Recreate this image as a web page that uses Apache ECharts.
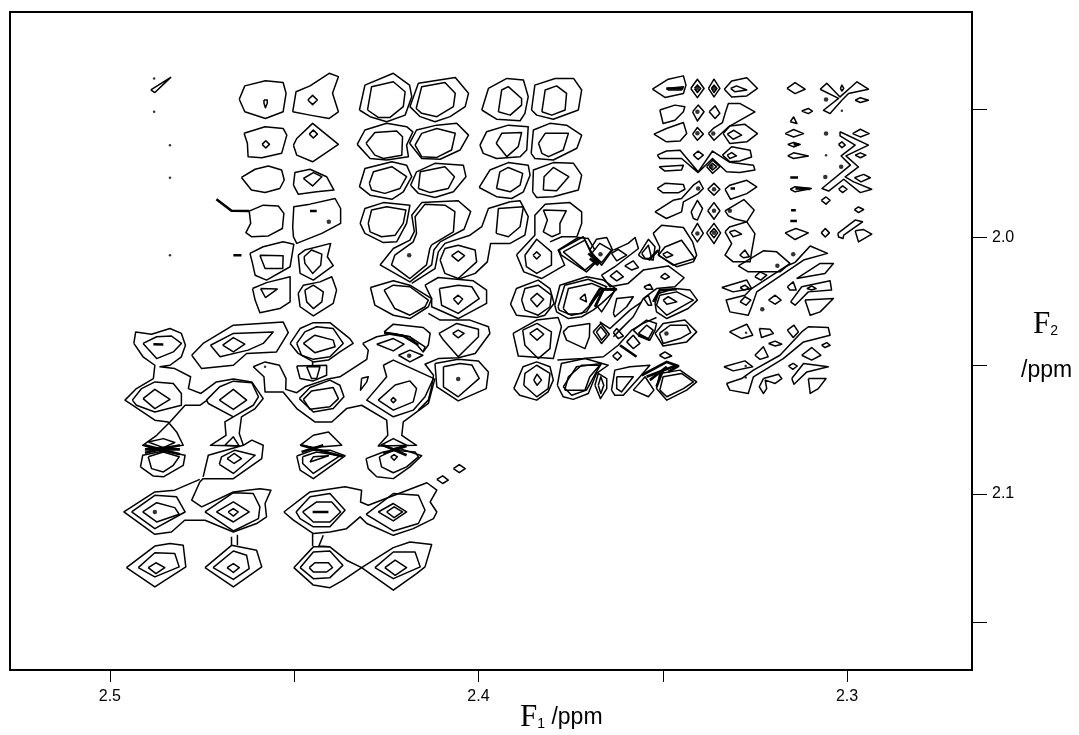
<!DOCTYPE html>
<html>
<head>
<meta charset="utf-8">
<style>html,body{margin:0;padding:0;background:#fff}#chart{width:1079px;height:735px}</style>
<script src="https://cdn.jsdelivr.net/npm/echarts@6/dist/echarts.min.js"></script>
</head>
<body>
<div id="chart"></div>
<script>
// contours, every list is F1,F2,F1,F2... in ppm
const f1Ticks = [2.5, 2.45, 2.4, 2.35, 2.3]
const f1Labels = [2.5, 2.4, 2.3]
const f2Ticks = [1.95, 2.0, 2.05, 2.1, 2.15]
const f2Labels = [2.0, 2.1]

const upperLeftRings = [
  [2.4649,1.9462,2.4634,1.9410,2.4578,1.9390,2.4530,1.9397,2.4522,1.9439,2.4530,1.9511,2.4578,1.9537,2.4634,1.9511],
  [2.4582,1.9465,2.4573,1.9465,2.4573,1.9478,2.4578,1.9495,2.4582,1.9478],
  [2.4504,1.9511,2.4495,1.9433,2.4457,1.9410,2.4405,1.9361,2.4380,1.9374,2.4396,1.9439,2.4380,1.9511,2.4405,1.9537,2.4457,1.9524],
  [2.4463,1.9465,2.4450,1.9447,2.4437,1.9465,2.4450,1.9483],
  [2.4636,1.9595,2.4579,1.9569,2.4530,1.9576,2.4520,1.9602,2.4534,1.9673,2.4588,1.9690,2.4625,1.9686,2.4627,1.9634],
  [2.4587,1.9638,2.4577,1.9624,2.4567,1.9638,2.4577,1.9652],
  [2.4502,1.9641,2.4493,1.9615,2.4450,1.9556,2.4380,1.9638,2.4450,1.9706,2.4493,1.9680],
  [2.4459,1.9598,2.4448,1.9582,2.4437,1.9598,2.4448,1.9613],
  [2.4643,1.9767,2.4606,1.9735,2.4570,1.9722,2.4534,1.9738,2.4527,1.9777,2.4539,1.9810,2.4579,1.9826,2.4616,1.9816],
  [2.4502,1.9797,2.4498,1.9748,2.4457,1.9735,2.4412,1.9764,2.4392,1.9816,2.4439,1.9823,2.4489,1.9832],
  [2.4475,1.9771,2.4448,1.9748,2.4425,1.9764,2.4450,1.9800],
  [2.4622,1.9898,2.4584,1.9875,2.4543,1.9878,2.4528,1.9907,2.4532,1.9966,2.4570,1.9995,2.4616,1.9998,2.4631,1.9982,2.4618,1.9946],
  [2.4504,1.9959,2.4501,1.9881,2.4457,1.9871,2.4389,1.9849,2.4374,1.9888,2.4374,1.9946,2.4425,1.9985,2.4493,2.0024,2.4502,1.9998],
  [2.4620,2.0063,2.4584,2.0037,2.4530,2.0018,2.4501,2.0027,2.4511,2.0115,2.4575,2.0167,2.4606,2.0148,2.4613,2.0102],
  [2.4593,2.0070,2.4530,2.0072,2.4531,2.0122,2.4579,2.0122],
  [2.4489,2.0070,2.4471,2.0050,2.4401,2.0024,2.4410,2.0076,2.4394,2.0111,2.4448,2.0167,2.4484,2.0141],
  [2.4473,2.0076,2.4453,2.0050,2.4425,2.0066,2.4428,2.0109,2.4450,2.0141,2.4471,2.0102],
  [2.4613,2.0200,2.4575,2.0177,2.4511,2.0154,2.4511,2.0252,2.4539,2.0278,2.4593,2.0294,2.4606,2.0245],
  [2.4591,2.0200,2.4546,2.0202,2.4578,2.0235],
  [2.4489,2.0219,2.4475,2.0187,2.4430,2.0174,2.4398,2.0154,2.4385,2.0206,2.4394,2.0258,2.4448,2.0307,2.4484,2.0271],
  [2.4471,2.0206,2.4448,2.0187,2.4421,2.0213,2.4425,2.0252,2.4448,2.0278,2.4466,2.0252],
  [2.4889,1.9426,2.4835,1.9377,2.4878,1.9436]
]

const upperMidRings = [
  [2.4323,1.9504,2.4308,1.9407,2.4231,1.9361,2.4187,1.9407,2.4181,1.9452,2.4199,1.9524,2.4249,1.9550,2.4294,1.9530],
  [2.4301,1.9504,2.4290,1.9413,2.4231,1.9394,2.4199,1.9433,2.4204,1.9491,2.4240,1.9533,2.4272,1.9533],
  [2.4186,1.9491,2.4163,1.9400,2.4063,1.9377,2.4027,1.9439,2.4036,1.9491,2.4077,1.9530,2.4118,1.9550,2.4158,1.9530],
  [2.4169,1.9498,2.4154,1.9413,2.4091,1.9397,2.4063,1.9439,2.4068,1.9491,2.4113,1.9530,2.4154,1.9517],
  [2.4329,1.9638,2.4308,1.9582,2.4249,1.9556,2.4195,1.9569,2.4178,1.9589,2.4195,1.9641,2.4190,1.9686,2.4249,1.9699,2.4294,1.9693],
  [2.4305,1.9634,2.4281,1.9592,2.4222,1.9586,2.4206,1.9608,2.4208,1.9680,2.4258,1.9693,2.4281,1.9680],
  [2.4187,1.9634,2.4168,1.9582,2.4113,1.9563,2.4059,1.9556,2.4027,1.9602,2.4050,1.9660,2.4104,1.9696,2.4154,1.9693],
  [2.4172,1.9641,2.4154,1.9595,2.4113,1.9576,2.4063,1.9595,2.4073,1.9660,2.4113,1.9689,2.4154,1.9686],
  [2.4323,1.9803,2.4308,1.9732,2.4235,1.9706,2.4195,1.9719,2.4181,1.9764,2.4204,1.9823,2.4235,1.9852,2.4294,1.9836],
  [2.4296,1.9790,2.4285,1.9745,2.4235,1.9725,2.4195,1.9764,2.4213,1.9810,2.4254,1.9829,2.4290,1.9816],
  [2.4184,1.9797,2.4168,1.9745,2.4118,1.9712,2.4041,1.9719,2.4034,1.9764,2.4068,1.9823,2.4118,1.9845,2.4163,1.9829],
  [2.4163,1.9810,2.4158,1.9745,2.4091,1.9725,2.4065,1.9764,2.4082,1.9810,2.4131,1.9826],
  [2.4321,1.9946,2.4308,1.9888,2.4258,1.9865,2.4186,1.9875,2.4195,1.9946,2.4222,2.0018,2.4258,2.0021,2.4308,1.9985],
  [2.4299,1.9946,2.4290,1.9894,2.4249,1.9881,2.4197,1.9894,2.4204,1.9946,2.4226,1.9992,2.4263,1.9998,2.4294,1.9979],
  [2.4267,2.0108,2.4231,2.0044,2.4186,2.0011,2.4174,1.9978,2.4181,1.9914,2.4154,1.9865,2.4055,1.9858,2.4021,1.9900,2.4039,1.9969,2.4104,2.0018,2.4121,2.0050,2.4127,2.0108,2.4186,2.0174],
  [2.4127,2.0030,2.4068,1.9979,2.4064,1.9900,2.4091,1.9875,2.4145,1.9871,2.4172,1.9920,2.4168,1.9985,2.4177,2.0018,2.4227,2.0070,2.4236,2.0108,2.4186,2.0161,2.4141,2.0108,2.4132,2.0044],
  [2.4104,2.0089,2.4091,2.0044,2.4055,2.0031,2.4009,2.0050,2.4005,2.0096,2.4055,2.0161,2.4091,2.0141],
  [2.4073,2.0072,2.4055,2.0054,2.4038,2.0072,2.4055,2.0093],
  [2.4145,2.0187,2.4109,2.0157,2.4059,2.0164,2.4014,2.0170,2.3978,2.0206,2.3978,2.0258,2.4055,2.0317,2.4127,2.0271,2.4127,2.0239],
  [2.4106,2.0200,2.4055,2.0187,2.4018,2.0193,2.3998,2.0239,2.4055,2.0297,2.4100,2.0265],
  [2.4068,2.0241,2.4055,2.0226,2.4043,2.0241,2.4055,2.0261],
  [2.4293,2.0196,2.4231,2.0170,2.4186,2.0187,2.4127,2.0239,2.4136,2.0271,2.4186,2.0317,2.4231,2.0304,2.4281,2.0265],
  [2.4256,2.0206,2.4231,2.0187,2.4186,2.0193,2.4136,2.0245,2.4145,2.0271,2.4186,2.0304,2.4227,2.0278],
  [2.4107,2.0375,2.4059,2.0336,2.4000,2.0359,2.4000,2.0388,2.4055,2.0466,2.4095,2.0401],
  [2.4070,2.0375,2.4055,2.0362,2.4039,2.0375,2.4055,2.0392],
  [2.4118,2.0492,2.4055,2.0476,2.4000,2.0482,2.3973,2.0525,2.3979,2.0590,2.4055,2.0638,2.4113,2.0583],
  [2.4095,2.0505,2.4050,2.0492,2.4018,2.0498,2.3998,2.0550,2.4055,2.0622,2.4095,2.0583],
  [2.4256,2.0369,2.4231,2.0339,2.4150,2.0352,2.4131,2.0375,2.4136,2.0420,2.4150,2.0447,2.4186,2.0388],
  [2.4276,2.0417,2.4231,2.0395,2.4202,2.0417,2.4231,2.0443],
  [2.4217,2.0460,2.4186,2.0440,2.4151,2.0460,2.4186,2.0486],
  [2.4258,2.0499,2.4231,2.0479,2.4122,2.0550,2.4145,2.0622,2.4177,2.0674,2.4231,2.0700,2.4303,2.0635,2.4249,2.0544],
  [2.4272,2.0635,2.4226,2.0576,2.4186,2.0560,2.4168,2.0590,2.4177,2.0642,2.4231,2.0674],
  [2.4238,2.0635,2.4231,2.0625,2.4224,2.0635,2.4231,2.0645],
  [2.4317,2.0550,2.4299,2.0544,2.4303,2.0564,2.4320,2.0596]
]

const upperRightRings = [
  [2.3991,1.9504,2.3973,1.9420,2.3923,1.9381,2.3878,1.9387,2.3865,1.9452,2.3874,1.9517,2.3887,1.9546,2.3951,1.9540],
  [2.3946,1.9511,2.3937,1.9426,2.3919,1.9413,2.3883,1.9459,2.3883,1.9485,2.3914,1.9524],
  [2.3856,1.9504,2.3847,1.9407,2.3792,1.9381,2.3742,1.9381,2.3720,1.9426,2.3729,1.9504,2.3797,1.9540,2.3842,1.9524],
  [2.3828,1.9511,2.3819,1.9426,2.3788,1.9410,2.3761,1.9439,2.3765,1.9504,2.3801,1.9524],
  [2.3996,1.9641,2.3978,1.9589,2.3919,1.9563,2.3865,1.9569,2.3869,1.9660,2.3887,1.9686,2.3951,1.9693,2.3987,1.9673],
  [2.3952,1.9634,2.3937,1.9595,2.3883,1.9592,2.3892,1.9647,2.3923,1.9686],
  [2.3857,1.9673,2.3851,1.9582,2.3806,1.9556,2.3761,1.9563,2.3720,1.9602,2.3733,1.9653,2.3797,1.9699,2.3847,1.9693],
  [2.3837,1.9634,2.3819,1.9595,2.3756,1.9595,2.3770,1.9660,2.3810,1.9686,2.3828,1.9673],
  [2.3998,1.9806,2.3969,1.9738,2.3919,1.9709,2.3865,1.9719,2.3860,1.9758,2.3878,1.9823,2.3910,1.9849,2.3951,1.9842],
  [2.3951,1.9810,2.3942,1.9745,2.3919,1.9728,2.3880,1.9751,2.3887,1.9797,2.3914,1.9823],
  [2.3853,1.9823,2.3851,1.9738,2.3797,1.9709,2.3742,1.9712,2.3720,1.9758,2.3729,1.9816,2.3797,1.9842,2.3842,1.9845],
  [2.3824,1.9816,2.3822,1.9764,2.3797,1.9728,2.3755,1.9764,2.3788,1.9819],
  [2.3952,1.9985,2.3946,1.9888,2.3878,1.9881,2.3887,1.9959,2.3919,1.9998],
  [2.3824,1.9894,2.3762,1.9897,2.3779,1.9946,2.3779,1.9985,2.3801,1.9998,2.3824,1.9979,2.3813,1.9933]
]

const centerRings = [
  [2.3874,2.0070,2.3842,2.0008,2.3802,2.0057,2.3802,2.0109,2.3842,2.0141,2.3870,2.0115],
  [2.3852,2.0070,2.3842,2.0057,2.3832,2.0070,2.3842,2.0085],
  [2.3781,2.0050,2.3716,1.9998,2.3680,2.0096,2.3707,2.0135,2.3775,2.0070],
  [2.3770,2.0057,2.3711,2.0011,2.3684,2.0096,2.3711,2.0128],
  [2.3693,2.0063,2.3671,2.0024,2.3639,2.0050,2.3666,2.0099],
  [2.3698,2.0050,2.3680,2.0008,2.3652,2.0001,2.3636,2.0050,2.3666,2.0109],
  [2.3639,2.0063,2.3621,2.0047,2.3598,2.0070,2.3625,2.0092],
  [2.3566,2.0070,2.3539,2.0008,2.3521,2.0037,2.3526,2.0089,2.3553,2.0083],
  [2.3557,2.0063,2.3539,2.0031,2.3530,2.0083,2.3548,2.0083],
  [2.3603,2.0112,2.3580,2.0092,2.3566,2.0118,2.3584,2.0128],
  [2.3643,2.0151,2.3625,2.0131,2.3607,2.0154,2.3625,2.0170],
  [2.3913,2.0261,2.3897,2.0200,2.3838,2.0167,2.3806,2.0200,2.3795,2.0258,2.3820,2.0304,2.3842,2.0313,2.3897,2.0304],
  [2.3883,2.0245,2.3874,2.0200,2.3838,2.0187,2.3802,2.0226,2.3806,2.0271,2.3838,2.0304,2.3874,2.0284],
  [2.3859,2.0242,2.3841,2.0219,2.3823,2.0242,2.3841,2.0271],
  [2.3793,2.0265,2.3779,2.0187,2.3707,2.0154,2.3661,2.0167,2.3625,2.0203,2.3666,2.0258,2.3689,2.0284,2.3720,2.0310,2.3756,2.0317,2.3788,2.0291],
  [2.3784,2.0271,2.3766,2.0187,2.3702,2.0164,2.3652,2.0193,2.3680,2.0232,2.3707,2.0291,2.3747,2.0304,2.3781,2.0284],
  [2.3770,2.0278,2.3756,2.0200,2.3693,2.0180,2.3661,2.0200,2.3698,2.0265,2.3720,2.0297,2.3756,2.0300],
  [2.3725,2.0239,2.3711,2.0222,2.3707,2.0252],
  [2.3680,2.0265,2.3661,2.0206,2.3630,2.0206,2.3648,2.0252,2.3666,2.0291],
  [2.3634,2.0297,2.3625,2.0239,2.3580,2.0232,2.3598,2.0271,2.3630,2.0310],
  [2.3551,2.0193,2.3535,2.0183,2.3527,2.0203,2.3544,2.0203],
  [2.3551,2.0239,2.3539,2.0226,2.3530,2.0265,2.3539,2.0265],
  [2.3521,2.0258,2.3512,2.0219,2.3467,2.0200,2.3426,2.0206,2.3406,2.0245,2.3431,2.0278,2.3489,2.0317,2.3517,2.0291],
  [2.3517,2.0265,2.3508,2.0226,2.3462,2.0213,2.3417,2.0245,2.3489,2.0304],
  [2.3499,2.0245,2.3485,2.0232,2.3462,2.0252,2.3489,2.0261],
  [2.3506,2.0154,2.3494,2.0141,2.3482,2.0154,2.3494,2.0164],
  [2.3906,2.0375,2.3842,2.0323,2.3784,2.0313,2.3775,2.0349,2.3797,2.0473,2.3892,2.0463],
  [2.3880,2.0362,2.3841,2.0336,2.3802,2.0369,2.3806,2.0434,2.3838,2.0473,2.3874,2.0421],
  [2.3861,2.0375,2.3841,2.0356,2.3823,2.0378,2.3841,2.0401],
  [2.3770,2.0369,2.3756,2.0349,2.3698,2.0336,2.3699,2.0388,2.3711,2.0434,2.3761,2.0401],
  [2.3689,2.0369,2.3668,2.0336,2.3645,2.0378,2.3666,2.0414],
  [2.3680,2.0369,2.3668,2.0349,2.3652,2.0378,2.3666,2.0401],
  [2.3634,2.0372,2.3625,2.0356,2.3607,2.0385,2.3621,2.0395],
  [2.3598,2.0408,2.3580,2.0382,2.3562,2.0414,2.3580,2.0434],
  [2.3580,2.0362,2.3544,2.0323,2.3517,2.0336,2.3521,2.0362,2.3535,2.0401,2.3566,2.0382],
  [2.3566,2.0375,2.3544,2.0343,2.3526,2.0362,2.3539,2.0395],
  [2.3521,2.0375,2.3499,2.0336,2.3440,2.0323,2.3408,2.0369,2.3435,2.0408,2.3499,2.0424],
  [2.3509,2.0375,2.3480,2.0343,2.3435,2.0343,2.3424,2.0372,2.3453,2.0395,2.3499,2.0414],
  [2.3636,2.0463,2.3623,2.0447,2.3612,2.0463,2.3623,2.0479],
  [2.3509,2.0460,2.3494,2.0447,2.3476,2.0463,2.3494,2.0473],
  [2.3904,2.0590,2.3879,2.0505,2.3842,2.0486,2.3806,2.0505,2.3797,2.0557,2.3811,2.0603,2.3842,2.0635,2.3888,2.0616],
  [2.3877,2.0577,2.3874,2.0531,2.3842,2.0499,2.3806,2.0531,2.3811,2.0590,2.3842,2.0622],
  [2.3850,2.0557,2.3841,2.0534,2.3829,2.0557,2.3841,2.0577],
  [2.3786,2.0577,2.3775,2.0492,2.3711,2.0473,2.3648,2.0499,2.3680,2.0531,2.3702,2.0609,2.3743,2.0632,2.3770,2.0622],
  [2.3770,2.0583,2.3734,2.0505,2.3666,2.0492,2.3680,2.0525,2.3707,2.0596,2.3747,2.0616],
  [2.3766,2.0596,2.3756,2.0544,2.3720,2.0499,2.3671,2.0499,2.3698,2.0544,2.3711,2.0596],
  [2.3684,2.0577,2.3675,2.0531,2.3652,2.0551,2.3652,2.0590,2.3669,2.0629],
  [2.3675,2.0577,2.3668,2.0544,2.3660,2.0577,2.3668,2.0609],
  [2.3639,2.0596,2.3630,2.0518,2.3589,2.0505,2.3535,2.0499,2.3562,2.0544,2.3607,2.0616,2.3630,2.0616],
  [2.3625,2.0544,2.3580,2.0544,2.3612,2.0603,2.3625,2.0590],
  [2.3580,2.0596,2.3548,2.0544,2.3524,2.0596,2.3539,2.0622],
  [2.3517,2.0590,2.3508,2.0531,2.3453,2.0518,2.3408,2.0564,2.3435,2.0596,2.3489,2.0635],
  [2.3508,2.0596,2.3499,2.0544,2.3449,2.0531,2.3417,2.0564,2.3444,2.0590,2.3489,2.0622]
]

const topBlockRings = [
  [2.3528,1.9423,2.3485,1.9384,2.3444,1.9371,2.3437,1.9407,2.3444,1.9440,2.3494,1.9455],
  [2.3490,1.9420,2.3444,1.9413,2.3449,1.9426,2.3485,1.9426],
  [2.3424,1.9420,2.3406,1.9384,2.3388,1.9420,2.3406,1.9456],
  [2.3414,1.9420,2.3406,1.9407,2.3397,1.9420,2.3406,1.9436],
  [2.3376,1.9420,2.3361,1.9384,2.3345,1.9420,2.3361,1.9453],
  [2.3368,1.9420,2.3361,1.9407,2.3353,1.9420,2.3361,1.9436],
  [2.3333,1.9423,2.3313,1.9391,2.3272,1.9378,2.3243,1.9420,2.3272,1.9449,2.3313,1.9453],
  [2.3316,1.9420,2.3300,1.9410,2.3272,1.9426,2.3304,1.9433],
  [2.3508,1.9504,2.3467,1.9485,2.3440,1.9491,2.3444,1.9511,2.3467,1.9544,2.3499,1.9557],
  [2.3419,1.9511,2.3404,1.9485,2.3388,1.9511,2.3406,1.9547],
  [2.3374,1.9511,2.3358,1.9488,2.3345,1.9517,2.3358,1.9537],
  [2.3376,1.9596,2.3363,1.9576,2.3338,1.9553,2.3331,1.9518,2.3322,1.9479,2.3290,1.9479,2.3250,1.9511,2.3322,1.9570,2.3361,1.9622],
  [2.3524,1.9598,2.3490,1.9576,2.3444,1.9553,2.3435,1.9596,2.3453,1.9625,2.3490,1.9628],
  [2.3419,1.9598,2.3406,1.9572,2.3390,1.9598,2.3406,1.9622],
  [2.3336,1.9596,2.3318,1.9566,2.3277,1.9560,2.3243,1.9596,2.3272,1.9628,2.3318,1.9635],
  [2.3325,1.9598,2.3307,1.9583,2.3286,1.9602,2.3309,1.9618],
  [2.3515,1.9680,2.3490,1.9664,2.3453,1.9661,2.3404,1.9745,2.3365,1.9664,2.3318,1.9708,2.3254,1.9719,2.3250,1.9738,2.3291,1.9748,2.3327,1.9745,2.3365,1.9693,2.3404,1.9748,2.3449,1.9693,2.3508,1.9693],
  [2.3510,1.9725,2.3444,1.9719,2.3449,1.9738,2.3494,1.9742],
  [2.3417,1.9680,2.3404,1.9664,2.3390,1.9680,2.3404,1.9697],
  [2.3381,1.9725,2.3365,1.9700,2.3345,1.9725,2.3365,1.9751],
  [2.3374,1.9725,2.3365,1.9712,2.3354,1.9725,2.3365,1.9738],
  [2.3338,1.9680,2.3313,1.9647,2.3263,1.9661,2.3259,1.9687,2.3291,1.9703,2.3318,1.9706],
  [2.3325,1.9680,2.3313,1.9670,2.3300,1.9683,2.3318,1.9693],
  [2.3515,1.9810,2.3494,1.9790,2.3444,1.9794,2.3440,1.9813,2.3458,1.9827,2.3499,1.9827],
  [2.3521,1.9901,2.3472,1.9856,2.3449,1.9849,2.3417,1.9797,2.3401,1.9781,2.3390,1.9810,2.3404,1.9830,2.3444,1.9862,2.3449,1.9901,2.3490,1.9927],
  [2.3378,1.9813,2.3361,1.9790,2.3345,1.9813,2.3361,1.9836],
  [2.3331,1.9813,2.3318,1.9797,2.3272,1.9778,2.3245,1.9804,2.3272,1.9830,2.3316,1.9852],
  [2.3423,1.9901,2.3406,1.9856,2.3392,1.9888,2.3406,1.9933,2.3417,1.9927],
  [2.3378,1.9897,2.3361,1.9865,2.3345,1.9897,2.3361,1.9930],
  [2.3331,1.9897,2.3280,1.9853,2.3252,1.9894,2.3272,1.9940,2.3304,1.9929,2.3322,1.9917],
  [2.3512,2.0070,2.3494,2.0038,2.3449,2.0012,2.3413,2.0083,2.3472,2.0109],
  [2.3500,2.0066,2.3488,2.0057,2.3473,2.0070,2.3490,2.0080],
  [2.3422,1.9985,2.3406,1.9946,2.3390,1.9985,2.3406,2.0018],
  [2.3381,1.9983,2.3361,1.9946,2.3343,1.9983,2.3361,2.0025],
  [2.3372,1.9983,2.3361,1.9966,2.3351,1.9983,2.3361,2.0002],
  [2.3331,1.9979,2.3319,1.9960,2.3272,1.9940,2.3250,1.9986,2.3259,2.0057,2.3263,2.0096,2.3309,2.0096,2.3331,2.0070,2.3313,2.0025],
  [2.3319,1.9979,2.3304,1.9973,2.3286,1.9988,2.3309,1.9998],
  [2.3291,2.0070,2.3277,2.0050,2.3265,2.0076,2.3281,2.0080]
]

const farRightRings = [
  [2.3163,1.9420,2.3141,1.9397,2.3114,1.9423,2.3141,1.9440],
  [2.3073,1.9423,2.3055,1.9400,2.3019,1.9453,2.2973,1.9394,2.2942,1.9423,2.2996,1.9440,2.3014,1.9466,2.3046,1.9518,2.3064,1.9505,2.3023,1.9459],
  [2.3018,1.9420,2.3014,1.9407,2.3009,1.9420,2.3014,1.9430],
  [2.2978,1.9466,2.2964,1.9456,2.2942,1.9466,2.2964,1.9475],
  [2.3123,1.9508,2.3105,1.9498,2.3094,1.9508,2.3105,1.9518],
  [2.3154,1.9550,2.3145,1.9531,2.3136,1.9557],
  [2.3168,1.9596,2.3145,1.9580,2.3118,1.9596,2.3145,1.9609],
  [2.3019,1.9589,2.2942,1.9641,2.3003,1.9683,2.2969,1.9726,2.3005,1.9765,2.2982,1.9784,2.2933,1.9813,2.2964,1.9826,2.3009,1.9774,2.3050,1.9820,2.3068,1.9810,2.2991,1.9719,2.3016,1.9683,2.2978,1.9641,2.3019,1.9605],
  [2.2985,1.9596,2.2964,1.9579,2.2940,1.9596,2.2964,1.9609],
  [2.3023,1.9638,2.3014,1.9628,2.3005,1.9641,2.3014,1.9651],
  [2.3161,1.9638,2.3145,1.9631,2.3127,1.9638,2.3145,1.9648],
  [2.3161,1.9683,2.3145,1.9671,2.3105,1.9683,2.3145,1.9693],
  [2.2978,1.9680,2.2964,1.9671,2.2949,1.9680,2.2964,1.9690],
  [2.2980,1.9768,2.2955,1.9755,2.2937,1.9768,2.2962,1.9784],
  [2.3154,1.9813,2.3141,1.9803,2.3097,1.9810,2.3141,1.9823],
  [2.3023,1.9813,2.3012,1.9800,2.3000,1.9813,2.3012,1.9826],
  [2.3070,1.9856,2.3057,1.9843,2.3046,1.9856,2.3057,1.9871],
  [2.2980,1.9892,2.2969,1.9882,2.2955,1.9892,2.2969,1.9904],
  [2.3168,1.9983,2.3139,1.9966,2.3105,1.9983,2.3141,2.0009],
  [2.3070,1.9983,2.3059,1.9966,2.3048,1.9983,2.3059,1.9999],
  [2.3025,1.9985,2.2978,1.9933,2.2958,1.9940,2.3009,1.9992,2.3011,2.0005,2.3023,1.9999],
  [2.2978,1.9975,2.2955,1.9970,2.2933,1.9988,2.2969,2.0018]
]

const rightBlockRings = [
  [2.3295,2.0112,2.3227,2.0053,2.3191,2.0057,2.3155,2.0102,2.3182,2.0135,2.3268,2.0135],
  [2.3141,2.0098,2.3100,2.0034,2.3053,2.0063,2.3118,2.0089,2.3245,2.0213,2.3259,2.0271,2.3268,2.0304,2.3318,2.0291,2.3328,2.0245,2.3277,2.0226,2.3259,2.0200,2.3164,2.0112],
  [2.3340,2.0196,2.3272,2.0167,2.3259,2.0200,2.3309,2.0213],
  [2.3290,2.0196,2.3277,2.0187,2.3265,2.0200,2.3280,2.0206],
  [2.3290,2.0252,2.3277,2.0232,2.3261,2.0245,2.3274,2.0265],
  [2.3250,2.0154,2.3236,2.0135,2.3218,2.0148,2.3234,2.0167],
  [2.3213,2.0245,2.3195,2.0226,2.3179,2.0245,2.3195,2.0261],
  [2.3162,2.0193,2.3146,2.0174,2.3138,2.0206,2.3155,2.0206],
  [2.3137,2.0161,2.3073,2.0102,2.3037,2.0102,2.3060,2.0141],
  [2.3153,2.0252,2.3123,2.0193,2.3046,2.0170,2.3042,2.0206,2.3105,2.0213,2.3141,2.0265],
  [2.3109,2.0200,2.3096,2.0190,2.3084,2.0200,2.3096,2.0206],
  [2.3114,2.0245,2.3037,2.0239,2.3073,2.0291,2.3100,2.0304],
  [2.3319,2.0369,2.3272,2.0339,2.3256,2.0382,2.3286,2.0395],
  [2.3238,2.0356,2.3209,2.0359,2.3200,2.0375,2.3232,2.0391],
  [2.3162,2.0362,2.3144,2.0343,2.3132,2.0369,2.3146,2.0391],
  [2.3334,2.0505,2.3277,2.0482,2.3256,2.0505,2.3309,2.0521],
  [2.3327,2.0570,2.3286,2.0551,2.3254,2.0518,2.3182,2.0460,2.3123,2.0369,2.3105,2.0349,2.3051,2.0352,2.3046,2.0382,2.3118,2.0408,2.3173,2.0473,2.3254,2.0544,2.3268,2.0609,2.3318,2.0596],
  [2.3213,2.0414,2.3195,2.0405,2.3177,2.0417,2.3195,2.0424],
  [2.3250,2.0460,2.3227,2.0427,2.3214,2.0466,2.3236,2.0476],
  [2.3069,2.0421,2.3055,2.0411,2.3046,2.0421,2.3060,2.0430],
  [2.3123,2.0460,2.3096,2.0430,2.3071,2.0460,2.3096,2.0479],
  [2.3159,2.0502,2.3146,2.0492,2.3135,2.0502,2.3147,2.0515],
  [2.3150,2.0551,2.3118,2.0492,2.3051,2.0505,2.3109,2.0525,2.3144,2.0573],
  [2.3227,2.0551,2.3186,2.0534,2.3177,2.0551,2.3195,2.0570,2.3222,2.0557,2.3218,2.0590,2.3227,2.0609,2.3238,2.0583],
  [2.3105,2.0551,2.3057,2.0551,2.3078,2.0590,2.3100,2.0609]
]

const lowerLeftRings = [
  [2.4910,2.0414,2.4873,2.0388,2.4833,2.0385,2.4806,2.0414,2.4828,2.0447,2.4873,2.0473],
  [2.4939,2.0635,2.4914,2.0590,2.4878,2.0564,2.4828,2.0570,2.4806,2.0609,2.4806,2.0655,2.4878,2.0681,2.4928,2.0655],
  [2.4910,2.0629,2.4878,2.0593,2.4837,2.0632,2.4878,2.0668],
  [2.4738,2.0635,2.4702,2.0583,2.4665,2.0561,2.4615,2.0567,2.4597,2.0622,2.4611,2.0655,2.4665,2.0700,2.4733,2.0648],
  [2.4703,2.0635,2.4665,2.0593,2.4629,2.0635,2.4665,2.0671],
  [2.4778,2.0460,2.4747,2.0414,2.4665,2.0343,2.4530,2.0330,2.4516,2.0372,2.4548,2.0447,2.4629,2.0453,2.4665,2.0499,2.4751,2.0512],
  [2.4727,2.0421,2.4665,2.0375,2.4557,2.0369,2.4584,2.0414,2.4625,2.0440,2.4701,2.0466],
  [2.4694,2.0421,2.4665,2.0391,2.4634,2.0417,2.4665,2.0447],
  [2.4917,2.0895,2.4911,2.0850,2.4855,2.0833,2.4796,2.0850,2.4801,2.0889,2.4855,2.0934,2.4882,2.0931],
  [2.4896,2.0856,2.4855,2.0837,2.4812,2.0856,2.4828,2.0889,2.4855,2.0915,2.4887,2.0902],
  [2.4896,2.0798,2.4855,2.0785,2.4824,2.0800,2.4855,2.0820],
  [2.4688,2.0811,2.4665,2.0778,2.4649,2.0814],
  [2.4703,2.0885,2.4697,2.0856,2.4661,2.0830,2.4606,2.0850,2.4665,2.0921],
  [2.4682,2.0863,2.4663,2.0843,2.4643,2.0863,2.4663,2.0882],
  [2.4941,2.1071,2.4878,2.1006,2.4819,2.1012,2.4796,2.1071,2.4878,2.1136],
  [2.4911,2.1071,2.4873,2.1035,2.4824,2.1054,2.4812,2.1080,2.4873,2.1110],
  [2.4742,2.1071,2.4665,2.0996,2.4611,2.0999,2.4593,2.1051,2.4597,2.1097,2.4665,2.1145],
  [2.4711,2.1071,2.4665,2.1032,2.4622,2.1071,2.4665,2.1110],
  [2.4679,2.1071,2.4665,2.1058,2.4652,2.1071,2.4665,2.1087],
  [2.4742,2.1288,2.4670,2.1201,2.4602,2.1220,2.4588,2.1285,2.4665,2.1363],
  [2.4720,2.1288,2.4665,2.1223,2.4629,2.1240,2.4622,2.1292,2.4665,2.1334],
  [2.4682,2.1288,2.4665,2.1272,2.4649,2.1288,2.4665,2.1307],
  [2.4955,2.1288,2.4878,2.1204,2.4837,2.1194,2.4801,2.1201,2.4794,2.1285,2.4878,2.1363],
  [2.4923,2.1288,2.4878,2.1230,2.4824,2.1233,2.4812,2.1285,2.4878,2.1324],
  [2.4896,2.1288,2.4875,2.1269,2.4851,2.1288,2.4875,2.1311]
]

const lowerMidRings = [
  [2.4511,2.0414,2.4484,2.0356,2.4448,2.0333,2.4403,2.0333,2.4349,2.0395,2.4340,2.0414,2.4376,2.0447,2.4407,2.0479,2.4448,2.0486,2.4489,2.0453],
  [2.4493,2.0414,2.4471,2.0369,2.4439,2.0349,2.4394,2.0356,2.4367,2.0414,2.4403,2.0466,2.4448,2.0476,2.4480,2.0460],
  [2.4475,2.0414,2.4444,2.0382,2.4394,2.0401,2.4389,2.0427,2.4444,2.0450],
  [2.4493,2.0502,2.4412,2.0499,2.4412,2.0538,2.4448,2.0560,2.4484,2.0551],
  [2.4466,2.0505,2.4430,2.0505,2.4439,2.0551,2.4453,2.0551],
  [2.4486,2.0629,2.4457,2.0586,2.4403,2.0557,2.4376,2.0577,2.4365,2.0622,2.4394,2.0668,2.4448,2.0681],
  [2.4475,2.0632,2.4453,2.0599,2.4394,2.0586,2.4380,2.0629,2.4403,2.0661,2.4457,2.0671],
  [2.4484,2.0811,2.4448,2.0772,2.4407,2.0759,2.4394,2.0778,2.4371,2.0811,2.4448,2.0820],
  [2.4493,2.0853,2.4448,2.0830,2.4403,2.0830,2.4362,2.0852,2.4448,2.0941,2.4484,2.0908],
  [2.4477,2.0856,2.4439,2.0837,2.4376,2.0852,2.4448,2.0921,2.4477,2.0882],
  [2.4457,2.0876,2.4448,2.0856,2.4407,2.0852],
  [2.4265,2.0811,2.4231,2.0785,2.4195,2.0811,2.4231,2.0824],
  [2.4305,2.0863,2.4258,2.0837,2.4213,2.0824,2.4154,2.0852,2.4186,2.0895,2.4231,2.0941,2.4276,2.0934,2.4299,2.0902],
  [2.4269,2.0856,2.4231,2.0830,2.4172,2.0837,2.4163,2.0856,2.4195,2.0895,2.4231,2.0918,2.4263,2.0895],
  [2.4238,2.0856,2.4229,2.0847,2.4220,2.0856,2.4229,2.0869],
  [2.4528,2.1071,2.4457,2.0993,2.4362,2.0973,2.4317,2.0986,2.4320,2.1032,2.4299,2.1045,2.4140,2.0957,2.4113,2.0986,2.4131,2.1032,2.4113,2.1071,2.4122,2.1097,2.4177,2.1136,2.4231,2.1162,2.4303,2.1116,2.4321,2.1090,2.4358,2.1136,2.4403,2.1149,2.4448,2.1155,2.4502,2.1103],
  [2.4495,2.1071,2.4457,2.1012,2.4403,2.0999,2.4362,2.1064,2.4403,2.1129,2.4448,2.1129,2.4484,2.1097],
  [2.4477,2.1071,2.4439,2.1032,2.4398,2.1032,2.4374,2.1071,2.4403,2.1110,2.4448,2.1110],
  [2.4305,2.1080,2.4231,2.0999,2.4163,2.1006,2.4145,2.1064,2.4163,2.1116,2.4231,2.1145],
  [2.4272,2.1071,2.4231,2.1038,2.4195,2.1071,2.4231,2.1106],
  [2.4249,2.1071,2.4229,2.1051,2.4206,2.1071,2.4229,2.1093],
  [2.4501,2.1288,2.4448,2.1207,2.4403,2.1207,2.4358,2.1259,2.4317,2.1288,2.4367,2.1337,2.4403,2.1366,2.4448,2.1356],
  [2.4484,2.1288,2.4448,2.1227,2.4403,2.1223,2.4368,2.1279,2.4403,2.1327,2.4448,2.1331],
  [2.4459,2.1288,2.4444,2.1269,2.4407,2.1269,2.4396,2.1288,2.4412,2.1305,2.4448,2.1305],
  [2.4317,2.1288,2.4231,2.1210,2.4186,2.1188,2.4127,2.1198,2.4145,2.1285,2.4168,2.1311,2.4231,2.1376],
  [2.4281,2.1288,2.4231,2.1227,2.4172,2.1227,2.4158,2.1285,2.4231,2.1331],
  [2.4254,2.1288,2.4226,2.1259,2.4195,2.1288,2.4226,2.1318],
  [2.4113,2.0944,2.4097,2.0930,2.4082,2.0947,2.4097,2.0960],
  [2.4068,2.0902,2.4052,2.0886,2.4036,2.0902,2.4052,2.0918]
]

const openLines = [
  [2.3914,1.9862,2.3973,1.9888,2.3991,1.9959,2.4023,1.9992,2.4091,2.0024,2.4109,2.0057,2.4118,2.0122,2.4181,2.0180],
  [2.3914,1.9862,2.3887,1.9858,2.3865,1.9920,2.3874,1.9992,2.3914,2.0024,2.3967,2.0024,2.3976,2.0096,2.4009,2.0141,2.4055,2.0164],
  [2.4136,2.0297,2.4104,2.0323,2.4023,2.0323,2.3973,2.0349,2.3969,2.0375,2.4009,2.0453,2.4055,2.0470,2.4109,2.0473,2.4145,2.0495,2.4122,2.0538,2.4127,2.0583,2.4136,2.0635,2.4163,2.0674],
  [2.4314,2.0414,2.4276,2.0388,2.4231,2.0375,2.4186,2.0388,2.4145,2.0427,2.4150,2.0447],
  [2.4935,2.0414,2.4930,2.0369,2.4887,2.0378,2.4837,2.0356,2.4806,2.0375,2.4795,2.0421,2.4806,2.0466,2.4837,2.0499,2.4864,2.0505,2.4824,2.0512,2.4781,2.0544,2.4787,2.0590,2.4753,2.0609,2.4711,2.0564,2.4665,2.0553,2.4615,2.0564,2.4584,2.0629,2.4606,2.0668,2.4643,2.0700,2.4649,2.0765,2.4638,2.0811,2.4615,2.0791,2.4584,2.0811,2.4588,2.0863,2.4665,2.0941,2.4747,2.0941,2.4756,2.0954,2.4778,2.1025,2.4751,2.1051,2.4665,2.0993,2.4593,2.0980,2.4563,2.0986,2.4579,2.1038,2.4575,2.1090,2.4602,2.1116,2.4665,2.1149,2.4742,2.1103,2.4797,2.1103,2.4833,2.1149,2.4878,2.1158,2.4962,2.1071,2.4878,2.0993,2.4824,2.0986,2.4756,2.0944],
  [2.4638,2.0811,2.4733,2.0850,2.4747,2.0934],
  [2.4935,2.0414,2.4910,2.0466,2.4878,2.0499,2.4882,2.0551,2.4928,2.0590,2.4959,2.0635,2.4878,2.0713,2.4842,2.0720,2.4819,2.0759,2.4801,2.0811,2.4882,2.0824,2.4911,2.0811,2.4873,2.0772,2.4837,2.0720,2.4796,2.0655,2.4756,2.0655,2.4736,2.0635],
  [2.4665,2.0700,2.4688,2.0720,2.4685,2.0772,2.4727,2.0811,2.4647,2.0814],
  [2.4670,2.1168,2.4670,2.1201],
  [2.4654,2.1201,2.4654,2.1160],
  [2.4611,2.0505,2.4579,2.0486,2.4540,2.0499,2.4522,2.0551,2.4523,2.0593,2.4493,2.0606,2.4471,2.0583,2.4412,2.0554,2.4376,2.0544,2.4303,2.0476,2.4299,2.0440,2.4314,2.0414],
  [2.4611,2.0505,2.4582,2.0544,2.4579,2.0603,2.4530,2.0603,2.4493,2.0668,2.4444,2.0720,2.4398,2.0720,2.4358,2.0668,2.4317,2.0655,2.4249,2.0713,2.4246,2.0772,2.4272,2.0814,2.4168,2.0811,2.4208,2.0772,2.4204,2.0720,2.4136,2.0648,2.4118,2.0550],
  [2.4450,2.0486,2.4450,2.0502],
  [2.4450,2.1155,2.4450,2.1204],
  [2.4421,2.1162,2.4433,2.1204,2.4403,2.1207],
  [2.3896,2.0067,2.3847,1.9992,2.3847,1.9914,2.3819,1.9871,2.3752,1.9865,2.3720,1.9901,2.3720,1.9946,2.3733,1.9998,2.3774,1.9998,2.3806,2.0018],
  [2.3897,2.0067,2.3877,2.0135,2.3829,2.0161,2.3766,2.0109,2.3784,2.0050,2.3729,2.0001,2.3702,2.0005,2.3684,2.0050],
  [2.3666,2.0148,2.3630,2.0115,2.3566,2.0044,2.3575,2.0001,2.3594,2.0024,2.3634,2.0050],
  [2.3666,2.0148,2.3643,2.0193,2.3594,2.0180,2.3553,2.0128,2.3485,2.0112,2.3442,2.0158,2.3467,2.0193,2.3517,2.0200,2.3553,2.0239,2.3580,2.0310,2.3616,2.0362,2.3634,2.0388],
  [2.3786,2.0479,2.3716,2.0473,2.3661,2.0466,2.3621,2.0421,2.3584,2.0362,2.3553,2.0336,2.3517,2.0313],
  [2.3671,2.0330,2.3643,2.0356,2.3589,2.0284,2.3557,2.0252],
  [2.3526,1.9985,2.3503,1.9953,2.3444,1.9962,2.3419,2.0018,2.3408,2.0070,2.3417,2.0096,2.3462,2.0115,2.3512,2.0070,2.3508,2.0038,2.3526,1.9985]
]

const heavyLines = [
  [2.4711,1.9852,2.4670,1.9897,2.4622,1.9898],
  [2.4665,2.0070,2.4643,2.0070],
  [2.4457,1.9898,2.4439,1.9898],
  [2.4905,2.0840,2.4810,2.0811],
  [2.4905,2.0811,2.4810,2.0846],
  [2.4905,2.0827,2.4810,2.0827],
  [2.4480,2.0837,2.4421,2.0811],
  [2.4480,2.0811,2.4367,2.0856],
  [2.4258,2.0811,2.4195,2.0850],
  [2.4258,2.0843,2.4195,2.0814],
  [2.4256,2.0372,2.4204,2.0385,2.4163,2.0420],
  [2.3702,2.0063,2.3671,2.0102],
  [2.3698,2.0083,2.3675,2.0109],
  [2.3539,2.0089,2.3512,2.0050],
  [2.3698,2.0265,2.3671,2.0203,2.3625,2.0203],
  [2.3684,2.0271,2.3661,2.0203],
  [2.3526,2.0252,2.3508,2.0206,2.3462,2.0203],
  [2.3616,2.0421,2.3571,2.0466],
  [2.3566,2.0382,2.3535,2.0401],
  [2.3557,2.0538,2.3489,2.0486,2.3458,2.0502,2.3485,2.0525],
  [2.3535,2.0557,2.3489,2.0505],
  [2.3517,2.0583,2.3499,2.0518],
  [2.3544,2.0544,2.3462,2.0499],
  [2.3490,1.9420,2.3444,1.9420],
  [2.3316,1.9810,2.3304,1.9810],
  [2.3154,1.9767,2.3133,1.9767],
  [2.3152,1.9895,2.3139,1.9895],
  [2.3154,1.9937,2.3136,1.9937],
  [2.3145,1.9638,2.3130,1.9638],
  [2.3140,1.9810,2.3100,1.9812],
  [2.4882,2.0417,2.4855,2.0418],
  [2.4450,2.1071,2.4407,2.1071]
]

const smallDots = [
  2.4837,2.0070, 2.4837,1.9768, 2.4837,1.9641, 2.4880,1.9511, 2.4880,1.9381,
  2.4579,2.0505, 2.3014,1.9507, 2.3057,1.9680, 2.3275,2.0547, 2.3274,2.0372, 2.3275,2.0502
]
const largeDots = [
  2.4406,1.9940, 2.4188,2.0070, 2.4188,2.0462, 2.4055,2.0553, 2.4878,2.1071,
  2.3363,1.9596, 2.3406,1.9511, 2.3406,1.9595, 2.3404,1.9810, 2.3361,1.9813,
  2.3361,1.9897, 2.3318,1.9897, 2.3406,1.9985, 2.3057,1.9463, 2.3057,1.9596,
  2.3016,1.9725, 2.3059,1.9765, 2.3669,2.0066, 2.3490,2.0375, 2.3189,2.0111,
  2.3146,2.0066, 2.3230,2.0281, 2.3406,1.9420, 2.3361,1.9420, 2.3361,1.9983,
  2.3368,1.9725
]

const toPairs = (flat) => {
  const out = []
  for (let i = 0; i < flat.length; i += 2) out.push([flat[i], flat[i + 1]])
  return out
}
const closeRing = (flat) => [...toPairs(flat), [flat[0], flat[1]]]

const lineSeries = (data, width) => ({
  type: 'line',
  data,
  silent: true,
  symbol: 'none',
  showSymbol: false,
  animation: false,
  lineStyle: { color: '#000', width, join: 'round' }
})

const allRings = [
  ...upperLeftRings, ...upperMidRings, ...upperRightRings, ...centerRings,
  ...topBlockRings, ...farRightRings, ...rightBlockRings, ...lowerLeftRings, ...lowerMidRings
]

const dotSeries = (flat, size) => ({
  type: 'scatter',
  data: toPairs(flat),
  silent: true,
  animation: false,
  symbolSize: size,
  itemStyle: { color: '#000' }
})

const chart = echarts.init(document.getElementById('chart'))
chart.setOption({
  animation: false,
  backgroundColor: '#fff',
  title: [
    {
      text: '{f|F}{s|1}{p| /ppm}',
      left: 515, top: 697,
      textStyle: {
        rich: {
          f: { fontFamily: 'Liberation Serif', fontSize: 31, fontWeight: 'normal', color: '#000' },
          s: { fontFamily: 'Liberation Sans', fontSize: 14, fontWeight: 'normal', color: '#000', padding: [14, 0, 0, 0] },
          p: { fontFamily: 'Liberation Sans', fontSize: 23, fontWeight: 'normal', color: '#000' }
        }
      }
    },
    {
      text: '{f|F}{s|2}',
      left: 1028, top: 304,
      textStyle: {
        rich: {
          f: { fontFamily: 'Liberation Serif', fontSize: 31, fontWeight: 'normal', color: '#000' },
          s: { fontFamily: 'Liberation Sans', fontSize: 14, fontWeight: 'normal', color: '#000', padding: [14, 0, 0, 0] }
        }
      }
    },
    {
      text: '/ppm',
      left: 1016, top: 354,
      textStyle: { fontFamily: 'Liberation Sans', fontSize: 23, fontWeight: 'normal', color: '#000' }
    }
  ],
  grid: {
    left: 10, right: 107, top: 12, bottom: 65,
    show: true, borderColor: '#000', borderWidth: 2, backgroundColor: '#fff'
  },
  xAxis: {
    type: 'value',
    inverse: true,
    min: 2.2661,
    max: 2.5271,
    splitLine: { show: false },
    axisLine: { show: false },
    axisTick: { customValues: f1Ticks, length: 12, lineStyle: { color: '#000', width: 1 } },
    axisLabel: {
      customValues: f1Labels,
      margin: 19,
      fontFamily: 'Liberation Sans',
      fontSize: 16,
      color: '#000',
      formatter: (v) => v.toFixed(1)
    }
  },
  yAxis: {
    type: 'value',
    inverse: true,
    position: 'right',
    min: 1.9122,
    max: 2.1687,
    splitLine: { show: false },
    axisLine: { show: false },
    axisTick: { customValues: f2Ticks, length: 15, lineStyle: { color: '#000', width: 1 } },
    axisLabel: {
      customValues: f2Labels,
      margin: 20,
      fontFamily: 'Liberation Sans',
      fontSize: 16,
      color: '#000',
      formatter: (v) => v.toFixed(1)
    }
  },
  series: [
    ...allRings.map((r) => lineSeries(closeRing(r), 1.5)),
    ...openLines.map((l) => lineSeries(toPairs(l), 1.5)),
    ...heavyLines.map((l) => lineSeries(toPairs(l), 2.6)),
    dotSeries(smallDots, 2.5),
    dotSeries(largeDots, 4.5)
  ]
})
</script>
</body>
</html>
